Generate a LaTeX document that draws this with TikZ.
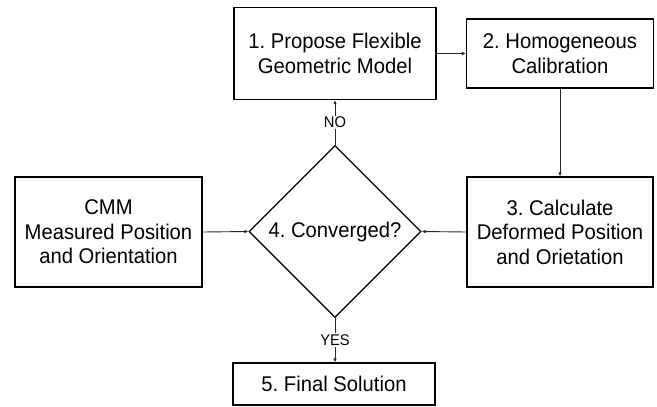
\documentclass[tikz,border=0pt]{standalone}
\usepackage{fontspec}
\setmainfont{Liberation Sans}
\newfontfamily\boxfont{Liberation Sans}[FakeStretch=0.95]
\usetikzlibrary{shapes.geometric,arrows.meta}
\frenchspacing
\begin{document}
\begin{tikzpicture}[x=1pt,y=-1pt,
  procbox/.style={draw=black,line width=1.1pt,align=center,inner sep=0pt,
    font=\boxfont\fontsize{21.3}{24.6}\selectfont},
  decide/.style={draw=black,line width=1.1pt,diamond,inner sep=0pt,
    minimum width=172pt,minimum height=172pt,font=\boxfont\fontsize{21.3}{24.6}\selectfont},
  conn/.style={draw=black!85,line width=0.9pt,-{Latex[length=4pt,width=3.5pt]}},
  lbl/.style={fill=white,inner sep=1.5pt,font=\boxfont\fontsize{15.5}{18}\selectfont}]
\useasboundingbox (0,0) rectangle (657,407);
\node[procbox,minimum width=202pt,minimum height=92pt] (b1) at (335,53.5) {1. Propose Flexible\\Geometric Model};
\node[procbox,minimum width=187pt,minimum height=69pt] (b2) at (560,53.5) {2. Homogeneous\\Calibration};
\node[procbox,minimum width=186pt,minimum height=110pt] (b3) at (560,232) {3. Calculate\\Deformed Position\\and Orietation};
\node[procbox,minimum width=187pt,minimum height=110pt] (cmm) at (108.5,232) {CMM\\Measured Position\\and Orientation};
\node[decide] (d) at (335,231.5) {4. Converged?};
\node[procbox,minimum width=202pt,minimum height=42pt] (b5) at (334,384) {5. Final Solution};
\draw[conn] (b1.east) -- (b1.east -| b2.west);
\draw[conn] (b2.south) -- (b3.north);
\draw[conn] (b3.west) -- (d.east);
\draw[conn] (cmm.east) -- (d.west);
\draw[conn] (d.north) -- node[lbl]{NO} (b1.south);
\draw[conn] (d.south) -- node[lbl]{YES} (b5.north -| d.south);
\end{tikzpicture}
\end{document}
